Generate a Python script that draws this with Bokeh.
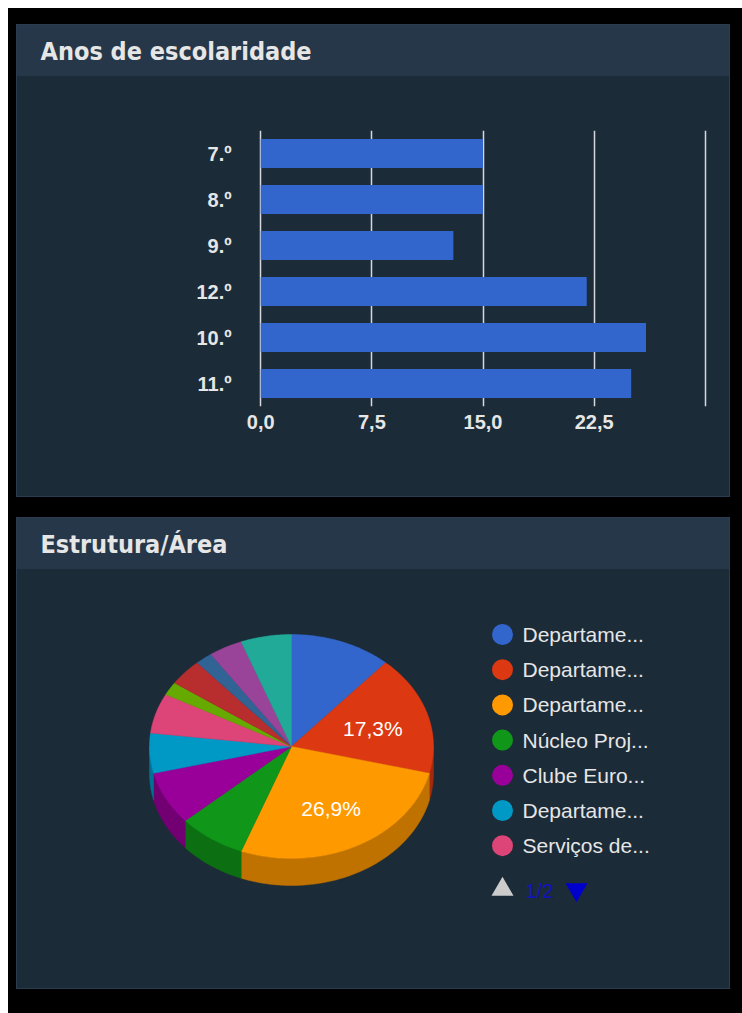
import numpy as np
from bokeh.plotting import figure
from bokeh.models import Range1d, FactorRange, FixedTicker, Spacer, Label
from bokeh.layouts import column, row
from bokeh.core.properties import value
from bokeh.embed import file_html
from bokeh.resources import INLINE

# ---------------- data ----------------
title_bar = "Anos de escolaridade"
title_pie = "Estrutura/Área"

bar_categories = ["7.º", "8.º", "9.º", "12.º", "10.º", "11.º"]
bar_values = [15, 15, 13, 22, 26, 25]

x_tick_values = [0, 7.5, 15, 22.5, 30]
x_tick_labels = ["0,0", "7,5", "15,0", "22,5", ""]

pie_values = [6, 9, 14, 4, 4, 3, 3, 1, 2, 1, 2, 3]
pie_colors = ["#3366cc", "#dc3912", "#ff9900", "#109618", "#990099", "#0099c6",
              "#dd4477", "#66aa00", "#b82e2e", "#316395", "#994499", "#22aa99"]

legend_labels = ["Departame...", "Departame...", "Departame...", "Núcleo Proj...",
                 "Clube Euro...", "Departame...", "Serviços de..."]
legend_page = "1/2"

# ---------------- styles ----------------
HEADER_BG = "#253748"
BODY_BG = "#1c2b38"
EDGE = "#2a3d50"
TEXT = "#e6e6e6"
PANEL_W = 714
HEADER_H = 52
PANEL_STYLE = {
    "background": "linear-gradient(to bottom, %s 0px, %s %dpx, %s %dpx, %s 100%%)"
                  % (HEADER_BG, HEADER_BG, HEADER_H, BODY_BG, HEADER_H, BODY_BG),
    "box-shadow": "inset 0 0 0 1px %s" % EDGE,
}
HEADER_STYLE = {"background-color": HEADER_BG,
                "box-shadow": "inset 1px 1px 0 0 %s, inset -1px 0 0 0 %s" % (EDGE, EDGE)}
BODY_STYLE = {"background-color": BODY_BG,
              "box-shadow": "inset 1px -1px 0 0 %s, inset -1px 0 0 0 %s" % (EDGE, EDGE)}


def add_title(fig, text):
    fig.add_layout(Label(x=24, y=27, x_units="canvas", y_units="canvas", text=text,
                         text_font="DejaVu Sans Condensed", text_font_style="bold",
                         text_font_size="25px", text_color=TEXT,
                         text_baseline="middle", text_align="left"))


def bare(fig):
    fig.axis.visible = False
    fig.grid.visible = False
    fig.background_fill_color = None
    fig.border_fill_color = None
    fig.outline_line_color = None


# ---------------- bar chart panel ----------------
h1 = figure(width=PANEL_W, height=HEADER_H, x_range=Range1d(0, PANEL_W),
            y_range=Range1d(HEADER_H, 0), toolbar_location=None, output_backend="svg",
            min_border=0, styles=HEADER_STYLE)
bare(h1)
add_title(h1, title_bar)

b = figure(width=PANEL_W, height=421, y_range=FactorRange(*reversed(bar_categories)),
           x_range=Range1d(-0.15, 30.15), toolbar_location=None, output_backend="svg",
           min_border_left=242, min_border_right=23, min_border_top=54,
           min_border_bottom=91, styles=BODY_STYLE)
b.background_fill_color = None
b.border_fill_color = None
b.outline_line_color = None
b.y_range.range_padding = 0
b.hbar(y=bar_categories, right=bar_values, height=0.63, fill_color="#3366cc",
       line_color=None)
b.xaxis.ticker = FixedTicker(ticks=x_tick_values)
b.xaxis.major_label_overrides = {v: l for v, l in zip(x_tick_values, x_tick_labels)}
b.xgrid.ticker = FixedTicker(ticks=x_tick_values)
b.xgrid.grid_line_color = "#d4d8dc"
b.xgrid.grid_line_width = 1.5
b.ygrid.grid_line_color = None
for ax in (b.xaxis, b.yaxis):
    ax.axis_line_color = None
    ax.major_tick_line_color = None
    ax.minor_tick_line_color = None
    ax.major_tick_out = 0
    ax.major_tick_in = 0
    ax.major_label_text_color = TEXT
    ax.major_label_text_font = "Liberation Sans"
    ax.major_label_text_font_style = "bold"
b.yaxis.major_label_text_font_size = "20px"
b.xaxis.major_label_text_font_size = "20px"
b.yaxis.major_label_standoff = 27
b.xaxis.major_label_standoff = 8

# ---------------- pie chart panel ----------------
PIE_H = 472
p = figure(width=PANEL_W, height=PIE_H, x_range=Range1d(0, PANEL_W),
           y_range=Range1d(PIE_H, 0), toolbar_location=None, output_backend="svg",
           min_border=0, styles=PANEL_STYLE)
bare(p)
add_title(p, title_pie)

cx, cy, rx, ry, depth = 275, 229, 142, 112, 27
total = float(sum(pie_values))
fr = np.cumsum([0] + pie_values) / total
angles = fr * 2 * np.pi


def darker(c, f=0.75):
    r, g, bb = int(c[1:3], 16), int(c[3:5], 16), int(c[5:7], 16)
    return "#%02x%02x%02x" % (int(r * f), int(g * f), int(bb * f))


side_xs, side_ys, side_c = [], [], []
top_xs, top_ys, top_c = [], [], []
lab_x, lab_y, lab_t = [], [], []
for i, v in enumerate(pie_values):
    a0, a1 = angles[i], angles[i + 1]
    n = max(3, int(np.degrees(a1 - a0)) + 2)
    th = np.linspace(a0, a1, n)
    top_xs.append([cx] + list(cx + rx * np.sin(th)))
    top_ys.append([cy] + list(cy - ry * np.cos(th)))
    top_c.append(pie_colors[i])
    s0, s1 = max(a0, np.pi / 2), min(a1, 3 * np.pi / 2)
    if s1 > s0:
        ts = np.linspace(s0, s1, max(3, int(np.degrees(s1 - s0)) + 2))
        ex = cx + rx * np.sin(ts)
        ey = cy - ry * np.cos(ts)
        side_xs.append(list(ex) + list(ex[::-1]))
        side_ys.append(list(ey) + list((ey + depth)[::-1]))
        side_c.append(darker(pie_colors[i]))
    pct = v / total
    if pct >= 0.15:
        mid = (a0 + a1) / 2
        lab_x.append(cx + 0.6 * rx * np.sin(mid))
        lab_y.append(cy - 0.6 * ry * np.cos(mid) + 2)
        lab_t.append(("%.1f" % (pct * 100)).replace(".", ",") + "%")

p.patches(xs=side_xs, ys=side_ys, fill_color=side_c, line_color=side_c, line_width=0.5)
p.patches(xs=top_xs, ys=top_ys, fill_color=top_c, line_color=top_c, line_width=0.5)
p.text(x=lab_x, y=lab_y, text=lab_t, text_font=value("Liberation Sans"),
       text_font_size="21px", text_color="#ffffff", text_align="center",
       text_baseline="middle")

# legend
lx, ly0, dy = 486, 117, 35.2
leg_y = [ly0 + k * dy for k in range(len(legend_labels))]
p.scatter(x=[lx] * len(legend_labels), y=leg_y, size=21, marker="circle",
          fill_color=pie_colors[:len(legend_labels)], line_color=None)
p.text(x=[lx + 20] * len(legend_labels), y=leg_y, text=legend_labels,
       text_font=value("Liberation Sans"), text_font_size="21px", text_color=TEXT,
       text_baseline="middle", text_align="left")
pg_y = 372
p.scatter(x=[lx], y=[pg_y], marker="triangle", size=22, fill_color="#cccccc",
          line_color=None)
p.text(x=[lx + 23], y=[pg_y + 1], text=[legend_page], text_font=value("Liberation Sans"),
       text_font_size="20px", text_color="#1212c0", text_baseline="middle",
       text_align="left")
p.scatter(x=[lx + 74], y=[pg_y], marker="inverted_triangle", size=22,
          fill_color="#0000cc", line_color=None)

# ---------------- page layout ----------------
black = column(
    Spacer(width=734, height=16),
    row(Spacer(width=8, height=HEADER_H), h1, spacing=0),
    row(Spacer(width=8, height=421), b, spacing=0),
    Spacer(width=734, height=20),
    row(Spacer(width=8, height=472), p, spacing=0),
    Spacer(width=734, height=24),
    spacing=0, width=734, height=1005,
    styles={"background-color": "#000000"},
)
root = column(
    Spacer(width=742, height=8),
    row(Spacer(width=8, height=1005), black, spacing=0),
    spacing=0, width=742, height=1013,
    styles={"background-color": "#ffffff"},
)

open("out.html", "w").write(file_html(root, INLINE))
